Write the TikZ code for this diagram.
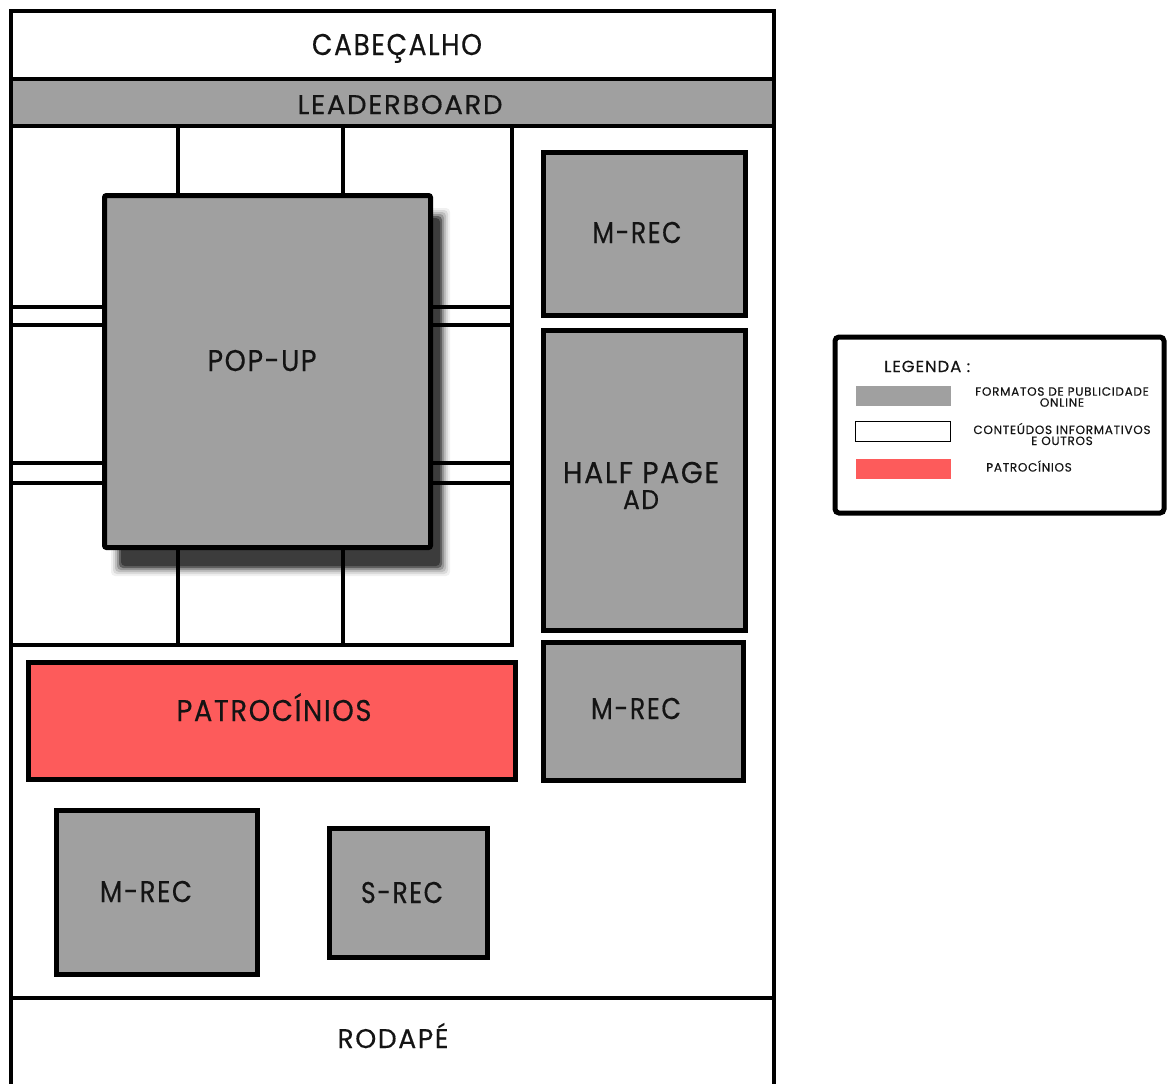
\documentclass[tikz,border=0pt]{standalone}
\usepackage{fontspec}
\setmainfont{Poppins}[LetterSpace=6, FakeBold=0.4]
\definecolor{adgray}{HTML}{A0A0A0}
\definecolor{adred}{HTML}{FD5B5B}
\definecolor{shadowc}{HTML}{3C3C3C}
\definecolor{inkc}{HTML}{141414}
\newcommand\fw[2]{\resizebox{#1pt}{\height}{#2}}
\tikzset{
  frameline/.style={line width=4pt, black},
  gridline/.style={line width=4pt, black},
  adbox/.style={draw=black, line width=5pt, fill=adgray, anchor=north west, inner sep=0pt},
  redbox/.style={adbox, fill=adred},
  lbl/.style={text=inkc, font=\fontsize{30}{27}\selectfont, inner sep=0pt, anchor=base},
  legtxt/.style={text=inkc, font=\fontsize{12}{11}\selectfont, inner sep=0pt, align=center},
  swatch/.style={minimum width=95pt, minimum height=20pt, inner sep=0pt, anchor=north west},
}
\begin{document}
\begin{tikzpicture}[x=1pt,y=-1pt]
\useasboundingbox (0,0) rectangle (1167,1084);
% leaderboard band
\fill[adgray] (11,79) rectangle (774,126);
% shadow of popup (soft)
\foreach \o/\a in {8/0.08,6/0.12,4/0.18,2/0.3,0/0.6,-2/1}{
  \fill[shadowc, opacity=\a, rounded corners=4pt] (119-\o,216-\o) rectangle (442+\o,568+\o);
}
% grid of content (left area)
\draw[gridline] (178,126) -- (178,645);
\draw[gridline] (343,126) -- (343,645);
\draw[gridline] (11,307) -- (512,307);
\draw[gridline] (11,325) -- (512,325);
\draw[gridline] (11,463) -- (512,463);
\draw[gridline] (11,483) -- (512,483);
\draw[gridline] (512,126) -- (512,647);
\draw[gridline] (11,645) -- (514,645);
% outer frame
\draw[frameline] (11,1084) -- (11,11) -- (774,11) -- (774,1084);
\draw[frameline] (11,79) -- (774,79);
\draw[frameline] (11,126) -- (774,126);
\draw[frameline] (9,998) -- (776,998);
% header / leaderboard / footer labels
\node[lbl] (cab) at (397,55) {\fw{170}{CABEÇALHO}};
\node[lbl, font=\fontsize{27}{27}\selectfont] (lead) at (400,114) {\fw{205}{LEADERBOARD}};
\node[lbl, font=\fontsize{27}{27}\selectfont] (rod) at (393,1048) {\fw{111}{RODAPÉ}};
% pop-up
\node[adbox, rounded corners=2pt, minimum width=326pt, minimum height=352pt] (popup) at (102,193) {};
\node[lbl] (poptxt) at (262,371) {\fw{109}{POP-UP}};
% right column
\node[adbox, minimum width=202pt, minimum height=163pt] (mrec1) at (541,150) {};
\node[lbl] (mrec1t) at (637,243) {\fw{89}{M-REC}};
\node[adbox, minimum width=202pt, minimum height=300pt] (half) at (541,328) {};
\node[lbl] (halft) at (641,483) {\fw{156}{HALF PAGE}};
\node[lbl, font=\fontsize{27}{27}\selectfont] (adt) at (641,509) {\fw{36}{AD}};
\node[adbox, minimum width=200pt, minimum height=138pt] (mrec2) at (541,640) {};
\node[lbl] (mrec2t) at (636,719) {\fw{90}{M-REC}};
% sponsorship
\node[redbox, minimum width=487pt, minimum height=117pt] (patro) at (26,660) {};
\node[lbl] (patrot) at (274,721) {\fw{195}{PATROCÍNIOS}};
% bottom boxes
\node[adbox, minimum width=201pt, minimum height=164pt] (mrec3) at (54,808) {};
\node[lbl] (mrec3t) at (146,902) {\fw{92}{M-REC}};
\node[adbox, minimum width=158pt, minimum height=129pt] (srec) at (327,826) {};
\node[lbl] (srect) at (402,903) {\fw{82}{S-REC}};
% legend
\draw[line width=5pt, rounded corners=4pt] (835,337) rectangle (1164,513);
\node[text=inkc, font=\fontsize{16}{16}\selectfont, inner sep=0pt, anchor=base west] (legt) at (884,372) {\fw{86}{LEGENDA :}};
\node[swatch, fill=adgray] (sw1) at (856,386) {};
\node[swatch, draw=black, line width=1pt, fill=white] (sw2) at (855,421) {};
\node[swatch, fill=adred] (sw3) at (856,459) {};
\node[legtxt] (l1) at (1062,397) {FORMATOS DE PUBLICIDADE\\ONLINE};
\node[legtxt] (l2) at (1062,434) {CONTEÚDOS INFORMATIVOS\\E OUTROS};
\node[legtxt] (l3) at (1029,466) {PATROCÍNIOS};
\end{tikzpicture}
\end{document}
